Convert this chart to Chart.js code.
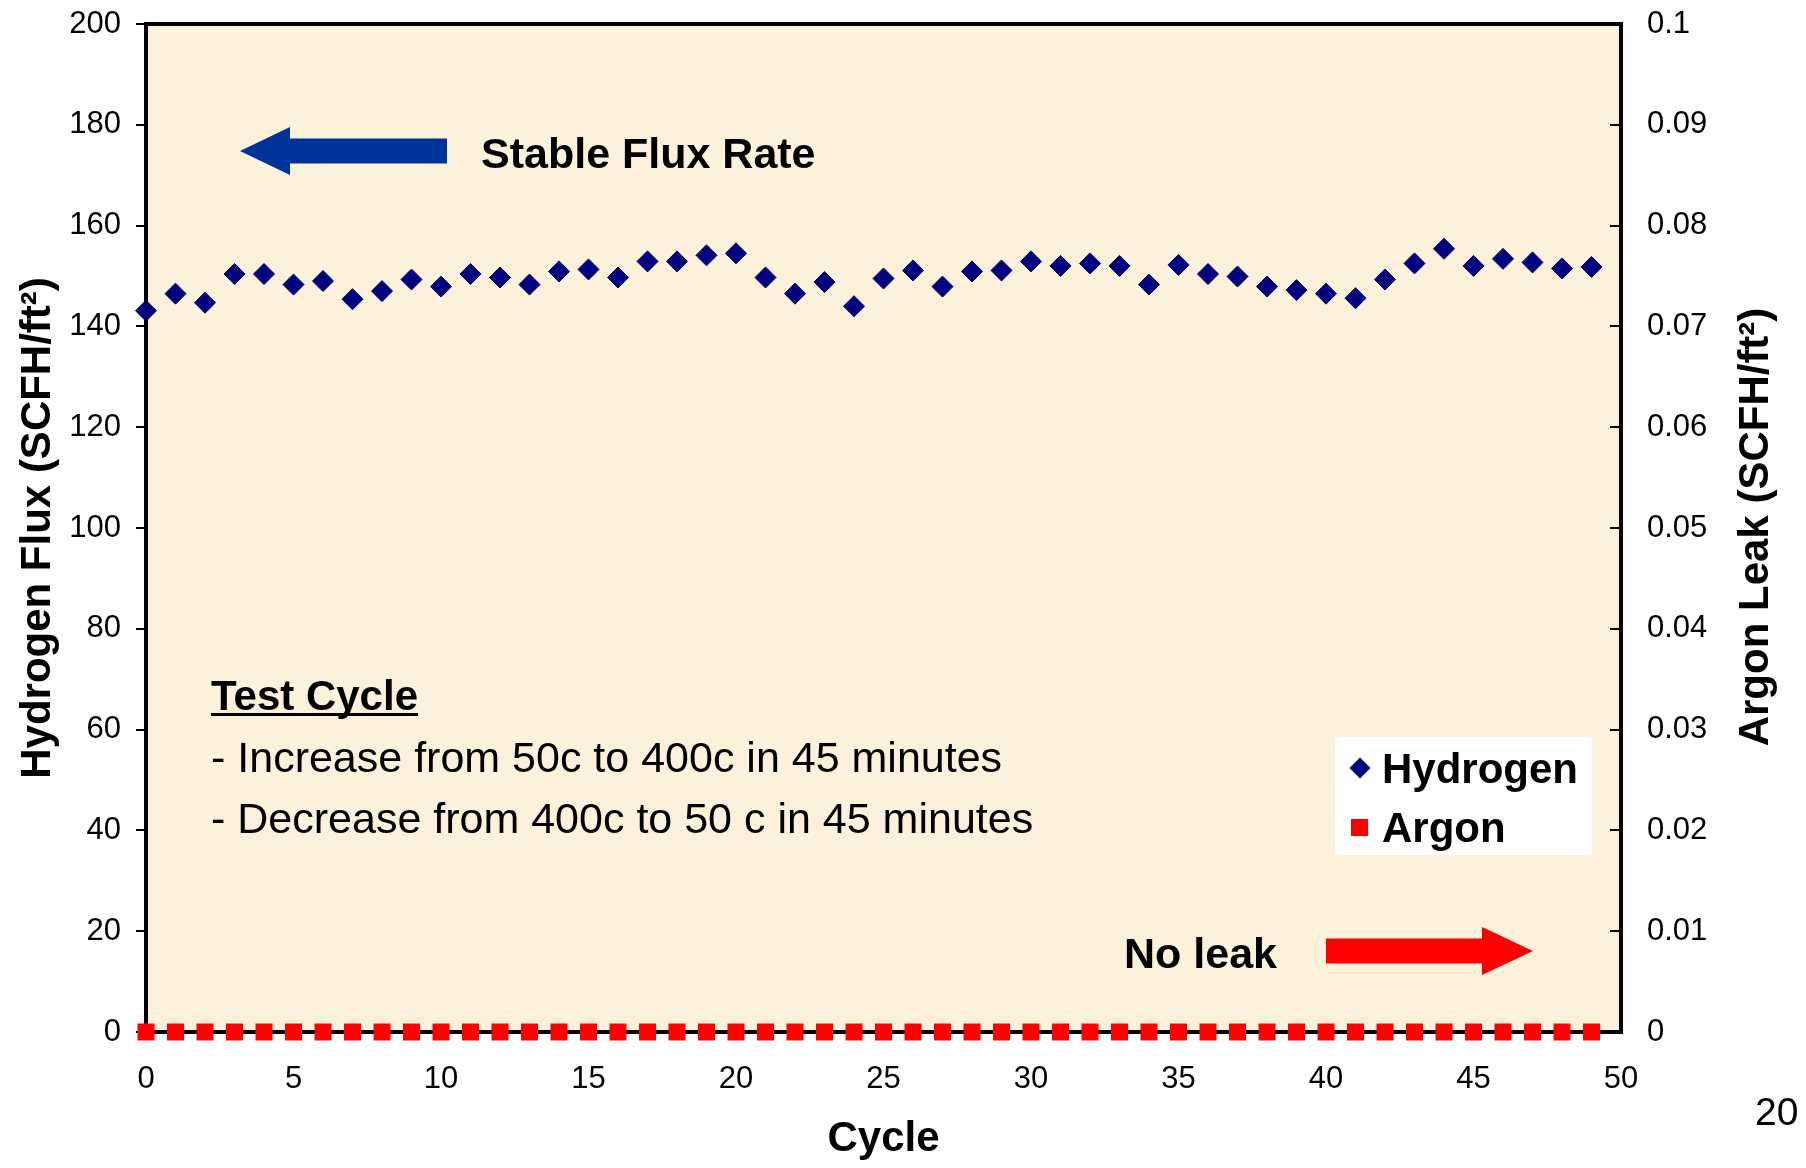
<!DOCTYPE html>
<html>
<head>
<meta charset="utf-8">
<script src="https://cdn.jsdelivr.net/npm/chart.js@4.4.1/dist/chart.umd.min.js"></script>
<style>
html,body{margin:0;padding:0;background:#ffffff;}
#wrap{width:1806px;height:1168px;}
</style>
</head>
<body>
<div id="wrap"><canvas id="c" width="1806" height="1168"></canvas></div>
<script>
// ---- data ----
const cycles = [0,1,2,3,4,5,6,7,8,9,10,11,12,13,14,15,16,17,18,19,20,21,22,23,24,25,26,27,28,29,30,31,32,33,34,35,36,37,38,39,40,41,42,43,44,45,46,47,48,49];
const hydrogenFlux = [143.1,146.5,144.7,150.4,150.4,148.3,149.0,145.4,147.0,149.3,147.9,150.4,149.7,148.3,150.9,151.3,149.7,152.9,152.9,154.1,154.5,149.7,146.5,148.8,144.0,149.5,151.1,147.9,150.9,151.1,152.9,152.0,152.5,152.0,148.3,152.2,150.4,149.9,147.9,147.2,146.5,145.6,149.3,152.5,155.4,152.0,153.4,152.7,151.5,151.8];
const argonLeak = [0,0,0,0,0,0,0,0,0,0,0,0,0,0,0,0,0,0,0,0,0,0,0,0,0,0,0,0,0,0,0,0,0,0,0,0,0,0,0,0,0,0,0,0,0,0,0,0,0,0];
const seriesNames = ['Hydrogen', 'Argon'];
const xTitle = 'Cycle';
const leftTitle = 'Hydrogen Flux (SCFH/ft\u00B2)';
const rightTitle = 'Argon Leak (SCFH/ft\u00B2)';
const noteTitle = 'Test Cycle';
const noteLines = ['- Increase from 50c to 400c in 45 minutes', '- Decrease from 400c to 50 c in 45 minutes'];
const stableText = 'Stable Flux Rate';
const leakText = 'No leak';
const pageNumber = '20';

const FONT = '"Liberation Sans", Arial, Helvetica, sans-serif';
Chart.defaults.font.family = FONT;
Chart.defaults.color = '#000000';

const COL_H = '#000080';
const COL_A = '#ff0000';

function drawArrow(ctx, tipX, tailX, cy, headLen, headHalf, shaftHalf, color) {
  const dir = tipX < tailX ? 1 : -1;
  const baseX = tipX + dir * headLen;
  ctx.save();
  ctx.fillStyle = color;
  ctx.beginPath();
  ctx.moveTo(tipX, cy);
  ctx.lineTo(baseX, cy - headHalf);
  ctx.lineTo(baseX, cy - shaftHalf);
  ctx.lineTo(tailX, cy - shaftHalf);
  ctx.lineTo(tailX, cy + shaftHalf);
  ctx.lineTo(baseX, cy + shaftHalf);
  ctx.lineTo(baseX, cy + headHalf);
  ctx.closePath();
  ctx.fill();
  ctx.restore();
}

function zeroPad(s) {
  s.paddingTop = 0; s.paddingBottom = 0; s.paddingLeft = 0; s.paddingRight = 0;
}

const decor = {
  id: 'decor',
  beforeDraw(chart) {
    const {ctx, chartArea: a} = chart;
    ctx.save();
    ctx.fillStyle = '#ffffff';
    ctx.fillRect(0, 0, chart.width, chart.height);
    ctx.fillStyle = '#fcf1da';
    ctx.fillRect(a.left, a.top, a.right - a.left, a.bottom - a.top);
    ctx.restore();
  },
  beforeDatasetsDraw(chart) {
    const {ctx, chartArea: a} = chart;
    ctx.save();
    ctx.strokeStyle = '#000000';
    ctx.lineWidth = 4;
    ctx.strokeRect(a.left, a.top, a.right - a.left, a.bottom - a.top);
    const s = chart.scales.y2;
    ctx.lineWidth = 2;
    s.ticks.forEach(t => {
      const py = Math.round(s.getPixelForValue(t.value));
      ctx.beginPath();
      ctx.moveTo(a.right - 11, py);
      ctx.lineTo(a.right, py);
      ctx.stroke();
    });
    ctx.restore();
  },
  afterDraw(chart) {
    const {ctx} = chart;
    ctx.save();
    ctx.fillStyle = '#000000';
    ctx.textBaseline = 'alphabetic';
    ctx.textAlign = 'left';

    drawArrow(ctx, 240, 447, 151, 50, 24, 12.5, '#003399');
    ctx.font = 'bold 43px ' + FONT;
    ctx.fillText(stableText, 481, 168);

    drawArrow(ctx, 1533, 1326, 951, 51, 24, 12.5, '#ff0000');
    ctx.fillText(leakText, 1124, 968);

    ctx.font = 'bold 42px ' + FONT;
    ctx.fillText(noteTitle, 211, 710);
    const w = ctx.measureText(noteTitle).width;
    ctx.fillRect(211, 713, w, 3);
    ctx.font = '43px ' + FONT;
    ctx.fillText(noteLines[0], 211, 772);
    ctx.fillText(noteLines[1], 211, 833);

    // Legend
    ctx.fillStyle = '#ffffff';
    ctx.fillRect(1335, 737, 257, 118);
    ctx.fillStyle = COL_H;
    ctx.beginPath();
    ctx.moveTo(1360, 768 - 10.5); ctx.lineTo(1370.5, 768); ctx.lineTo(1360, 768 + 10.5); ctx.lineTo(1349.5, 768);
    ctx.closePath(); ctx.fill();
    ctx.fillStyle = COL_A;
    ctx.fillRect(1351, 819, 17, 17);
    ctx.fillStyle = '#000000';
    ctx.font = 'bold 42px ' + FONT;
    ctx.fillText(seriesNames[0], 1382, 783);
    ctx.fillText(seriesNames[1], 1382, 842);

    ctx.save();
    ctx.translate(1756, 527);
    ctx.rotate(-Math.PI / 2);
    ctx.textAlign = 'center';
    ctx.textBaseline = 'middle';
    ctx.font = 'bold 42px ' + FONT;
    ctx.fillText(rightTitle, 0, 0);
    ctx.restore();

    ctx.font = '39px ' + FONT;
    ctx.fillText(pageNumber, 1755, 1125);
    ctx.restore();
  }
};

const ctx = document.getElementById('c').getContext('2d');
new Chart(ctx, {
  type: 'scatter',
  data: {
    datasets: [
      {
        label: seriesNames[0],
        data: cycles.map((c, i) => ({x: c, y: hydrogenFlux[i]})),
        yAxisID: 'y',
        pointStyle: 'rectRot',
        pointRadius: 10.5,
        backgroundColor: COL_H,
        borderColor: '#00005a',
        borderWidth: 1,
        showLine: false,
        clip: false
      },
      {
        label: seriesNames[1],
        data: cycles.map((c, i) => ({x: c, y: argonLeak[i]})),
        yAxisID: 'y2',
        pointStyle: 'rect',
        pointRadius: 12,
        backgroundColor: COL_A,
        borderColor: COL_A,
        borderWidth: 0,
        showLine: false,
        clip: false
      }
    ]
  },
  options: {
    responsive: false,
    animation: false,
    devicePixelRatio: 1,
    layout: {autoPadding: false, padding: {top: 24, left: 0, right: 0, bottom: 0}},
    plugins: {legend: {display: false}, tooltip: {enabled: false}, title: {display: false}},
    scales: {
      x: {
        type: 'linear',
        position: 'bottom',
        min: 0, max: 50,
        afterFit: s => { s.height = 136; zeroPad(s); },
        ticks: {stepSize: 5, padding: 29, font: {size: 31}, color: '#000', maxRotation: 0},
        grid: {display: true, drawOnChartArea: false, drawTicks: false},
        border: {display: false},
        title: {display: true, text: xTitle, font: {size: 42, weight: 'bold'}, color: '#000', padding: {top: 4, bottom: 3}}
      },
      y: {
        type: 'linear',
        position: 'left',
        min: 0, max: 200,
        afterFit: s => { s.width = 146; zeroPad(s); },
        ticks: {stepSize: 20, padding: 15, font: {size: 31}, color: '#000'},
        grid: {display: true, drawOnChartArea: false, drawTicks: true, tickLength: 10, color: '#000', lineWidth: 2},
        border: {display: false},
        title: {display: true, text: leftTitle, font: {size: 42, weight: 'bold'}, color: '#000', padding: {top: 13, bottom: 4}}
      },
      y2: {
        type: 'linear',
        position: 'right',
        min: 0, max: 0.1,
        afterFit: s => { s.width = 185; zeroPad(s); },
        ticks: {stepSize: 0.01, padding: 26, font: {size: 31}, color: '#000',
                callback: v => String(Math.round(v * 100) / 100)},
        grid: {display: false, drawTicks: false},
        border: {display: false}
      }
    }
  },
  plugins: [decor]
});
</script>
</body>
</html>
